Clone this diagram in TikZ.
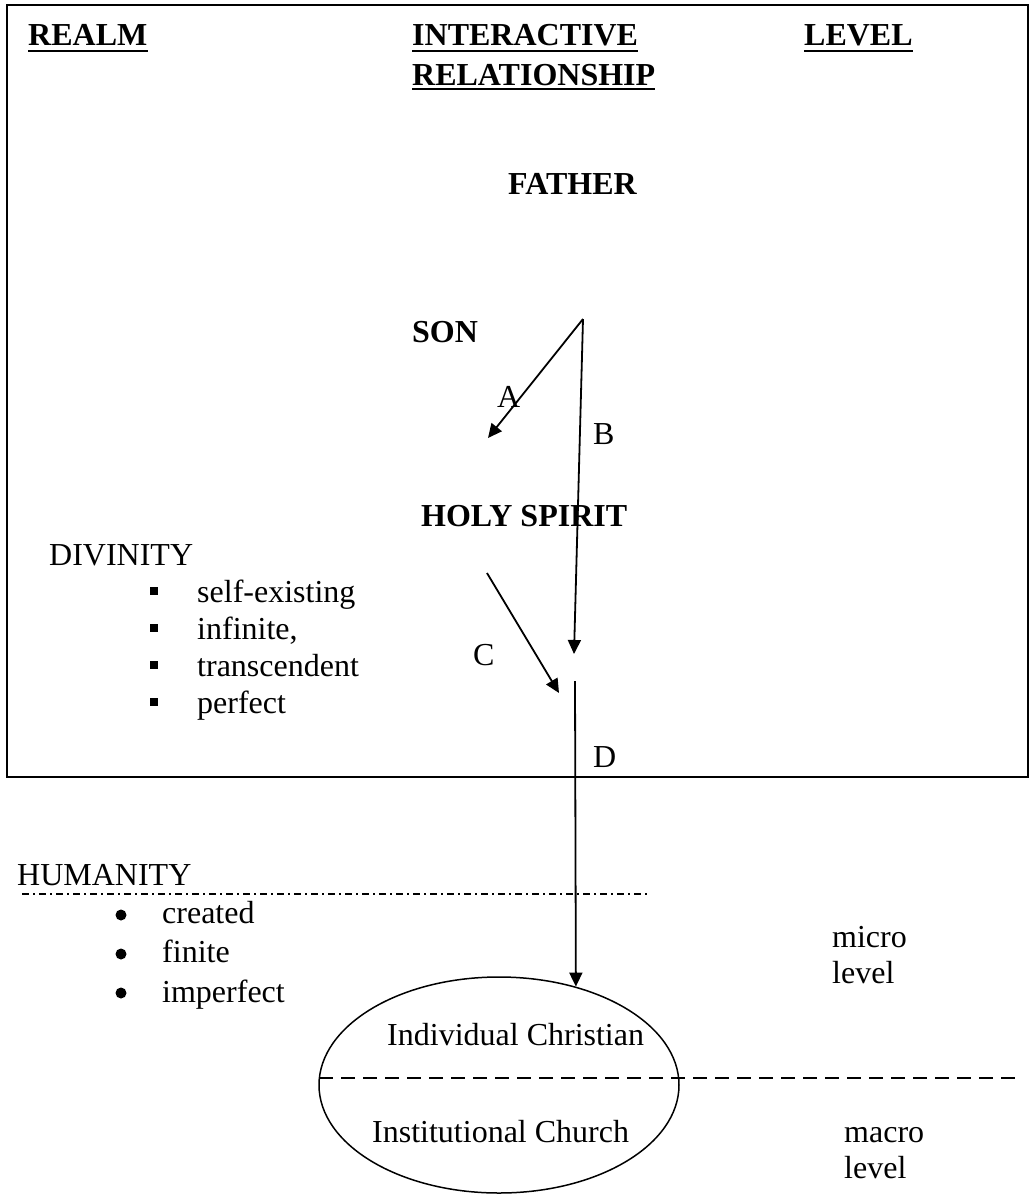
\documentclass[tikz,border=0pt]{standalone}
\usepackage{fontspec}
\setmainfont{Liberation Serif}
\usetikzlibrary{arrows.meta,shapes.geometric}

\begin{document}
\begin{tikzpicture}[x=1pt, y=-1pt,
    txt/.style={inner sep=0pt, anchor=base west, font=\fontsize{32}{40}\selectfont},
    head/.style={txt, font=\fontsize{32}{40}\selectfont\bfseries},
    uline/.style={line width=2.4pt},
    arr/.style={line width=1.8pt, -{Triangle[length=14pt,width=13pt]}},
    sqbullet/.style={fill=black, minimum size=8pt, inner sep=0pt},
    dotbullet/.style={circle, fill=black, minimum size=11pt, inner sep=0pt}]
    \useasboundingbox (0,0) rectangle (1029,1195);
    % Draw divinity frame
    \draw[line width=2pt] (7,5) rectangle (1028,777);
    % Column headings
    \node[head] (realm) at (28,45) {REALM};
    \node[head] (inter) at (412,45) {INTERACTIVE};
    \node[head] (relat) at (412,85) {RELATIONSHIP};
    \node[head] (level) at (804,45) {LEVEL};
    \draw[uline] ([yshift=-6pt]realm.base west) -- ([yshift=-6pt]realm.base east);
    \draw[uline] ([yshift=-6pt]inter.base west) -- ([yshift=-6pt]inter.base east);
    \draw[uline] ([yshift=-4pt]relat.base west) -- ([yshift=-4pt]relat.base east);
    \draw[uline] ([yshift=-6pt]level.base west) -- ([yshift=-6pt]level.base east);
    % Persons of the trinity
    \node[head] (father) at (508,194) {FATHER};
    \node[head] (son) at (412,342) {SON};
    \node[head] (spirit) at (421,526) {HOLY SPIRIT};
    % Divinity list
    \node[txt] (divinity) at (49,565) {DIVINITY};
    \node[sqbullet] (sq1) at (154,591) {};
    \node[sqbullet] (sq2) at (154,628) {};
    \node[sqbullet] (sq3) at (154,665) {};
    \node[sqbullet] (sq4) at (154,702) {};
    \node[txt] (selfex) at (197,602) {self-existing};
    \node[txt] (infin) at (197,639) {infinite,};
    \node[txt] (trans) at (197,676) {transcendent};
    \node[txt] (perf) at (197,713) {perfect};
    % Relationship arrows
    \coordinate (apex) at (583,319);
    \coordinate (atip) at (488,438);
    \coordinate (btip) at (574,654);
    \coordinate (cstart) at (487,573);
    \coordinate (ctip) at (559,693);
    \coordinate (dstart) at (575,681);
    \draw[arr] (apex) -- (atip);
    \draw[arr] (apex) -- (btip);
    \draw[arr] (cstart) -- (ctip);
    \node[txt] (lblA) at (497,407) {A};
    \node[txt] (lblB) at (593,444) {B};
    \node[txt] (lblC) at (473,665) {C};
    \node[txt] (lblD) at (593,767) {D};
    % Humanity list
    \node[txt] (humanity) at (17,885) {HUMANITY};
    \draw[line width=1.3pt, dash pattern=on 7pt off 4pt on 2pt off 4pt] (22,894) -- (650,894);
    \node[dotbullet] (dot1) at (121,915) {};
    \node[dotbullet] (dot2) at (121,954) {};
    \node[dotbullet] (dot3) at (121,993) {};
    \node[txt] (created) at (162,923) {created};
    \node[txt] (finite) at (162,962) {finite};
    \node[txt] (imperf) at (162,1002) {imperfect};
    % Church ellipse and levels
    \node[draw, ellipse, line width=1.5pt, minimum width=360pt, minimum height=216pt, inner sep=0pt] (church) at (499,1085) {};
    \draw[arr] (dstart) -- (church.52);
    \node[txt] (indiv) at (387,1045) {Individual Christian};
    \node[txt] (instit) at (372,1142) {Institutional Church};
    \draw[line width=1.7pt, dash pattern=on 14pt off 8pt] (319,1078) -- (1016,1078);
    \node[txt] (micro) at (832,947) {micro};
    \node[txt] (microlv) at (832,983) {level};
    \node[txt] (macro) at (844,1142) {macro};
    \node[txt] (macrolv) at (844,1178) {level};
\end{tikzpicture}
\end{document}
